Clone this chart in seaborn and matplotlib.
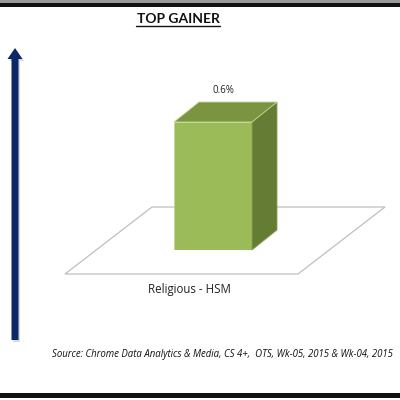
import matplotlib
matplotlib.use("Agg")
import matplotlib.pyplot as plt
import seaborn as sns
import pandas as pd
from matplotlib.patches import Polygon

# chart data
categories = ["Religious - HSM"]
values = [0.6]
value_labels = ["0.6%"]
title = "TOP GAINER"
source = "Source: Chrome Data Analytics & Media, CS 4+,  OTS, Wk-05, 2015 & Wk-04, 2015"

df = pd.DataFrame({"Category": categories, "Gain": values})

sns.set_theme(style="white")
plt.rcParams["font.family"] = ["Lato", "DejaVu Sans"]

W = H = 400
fig = plt.figure(figsize=(4, 4), dpi=100)
fig.patch.set_facecolor("white")

# overlay axes in pixel coordinates (origin top-left)
bg = fig.add_axes([0, 0, 1, 1], zorder=0)
bg.set_xlim(0, W)
bg.set_ylim(H, 0)
bg.axis("off")

# frame lines top and bottom
bg.axhspan(0, 2.5, color="#9a9a9a", lw=0)
bg.axhspan(2.5, 6.5, color="#111111", lw=0)
bg.axhspan(393, 397.5, color="#111111", lw=0)

# floor of the 3d chart
floor = Polygon([(65, 274), (298, 274), (385, 207), (152, 207)], closed=True,
                facecolor="white", edgecolor="#bfbfbf", lw=0.9)
bg.add_patch(floor)

# vertical arrow on the left
bg.arrow(16.5, 342, 0, -292, width=7, head_width=15, head_length=11,
         length_includes_head=True, color="#b8c2d8", alpha=0.6, lw=0)
bg.arrow(15, 340, 0, -292, width=7, head_width=15, head_length=11,
         length_includes_head=True, color="#0c2866", lw=0)

# title with underline
bg.text(178, 19, title, ha="center", va="center", fontsize=10, fontweight="bold",
        color="#111111")
bg.plot([136, 220], [25.5, 25.5], color="#111111", lw=1)

# category label and source
bg.text(189, 289, categories[0], ha="center", va="center", fontsize=8.3,
        family=["Open Sans", "DejaVu Sans"], color="#222222")
bg.text(52, 355, source, ha="left", va="center", fontsize=6.9, style="italic",
        family=["Open Sans", "DejaVu Sans"], color="#111111")

# bar axes: front face of the bar drawn by seaborn
bx0, bx1 = 164.25, 261.75
by0, by1 = 250, 250 - 128 / 0.6
ax = fig.add_axes([bx0 / W, 1 - by0 / H, (bx1 - bx0) / W, (by0 - by1) / H], zorder=1)
ax.patch.set_alpha(0)
sns.barplot(data=df, x="Category", y="Gain", color="#9bbb59", saturation=1,
            width=0.8, edgecolor="#c4d89a", linewidth=0.6, ax=ax)
ax.set_xlim(-0.5, 0.5)
ax.set_ylim(0, 1)
ax.axis("off")

# depth of the 3d bar in data units
dx = 25 / (bx1 - bx0)
dy = 20 / (by0 - by1)
for bar, lab in zip(ax.patches, value_labels):
    x0 = bar.get_x()
    x1 = x0 + bar.get_width()
    h = bar.get_height()
    side = Polygon([(x1, 0), (x1 + dx, dy), (x1 + dx, h + dy), (x1, h)], closed=True,
                   facecolor="#647c34", edgecolor="#8aa356", lw=0.6, clip_on=False)
    top = Polygon([(x0, h), (x0 + dx, h + dy), (x1 + dx, h + dy), (x1, h)], closed=True,
                  facecolor="#7a9440", edgecolor="#c4d89a", lw=0.6, clip_on=False)
    ax.add_patch(side)
    ax.add_patch(top)
    ax.text((x0 + x1) / 2 + dx / 2 - 0.02, h + dy + 0.03, lab, ha="center", va="bottom",
            fontsize=7, family=["Open Sans", "DejaVu Sans"], color="#222222")

fig.savefig("out.png", dpi=100)
